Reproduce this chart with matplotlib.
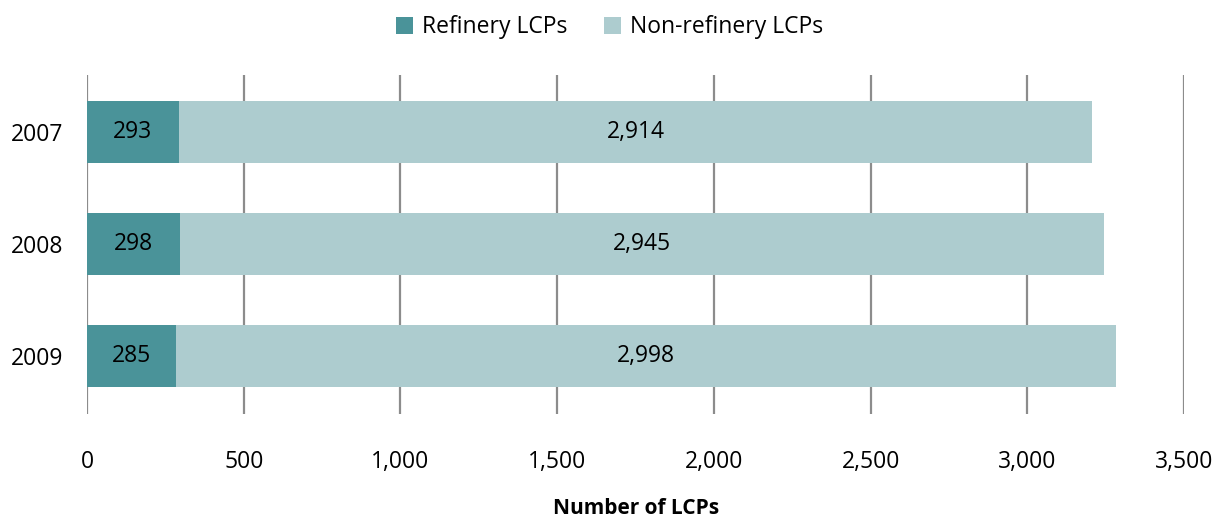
import matplotlib
matplotlib.use("Agg")
import matplotlib.pyplot as plt
import numpy as np

years = ["2007", "2008", "2009"]
refinery = [293, 298, 285]
non_refinery = [2914, 2945, 2998]
xticks = [0, 500, 1000, 1500, 2000, 2500, 3000, 3500]

dark = "#4A9399"
light = "#ADCCCF"
grid = "#8C8C8C"

plt.rcParams["font.family"] = ["Open Sans", "DejaVu Sans"]

fig = plt.figure(figsize=(12.19, 5.17), dpi=100)
ax = fig.add_axes([0.0714, 0.199, 0.9, 0.656])

y = np.arange(len(years))
h = 0.56
b1 = ax.barh(y, refinery, height=h, color=dark, label="Refinery LCPs", zorder=3)
b2 = ax.barh(y, non_refinery, left=refinery, height=h, color=light,
             label="Non-refinery LCPs", zorder=3)

for i in range(len(years)):
    ax.text(refinery[i] / 2, y[i], f"{refinery[i]:,}", ha="center", va="center",
            fontsize=16.5, zorder=4)
    ax.text(refinery[i] + non_refinery[i] / 2, y[i], f"{non_refinery[i]:,}",
            ha="center", va="center", fontsize=16.5, zorder=4)

ax.set_xlim(0, 3500)
ax.set_ylim(2.52, -0.51)
ax.set_xticks(xticks)
ax.set_xticklabels([f"{v:,}" for v in xticks])
ax.set_yticks(y)
ax.set_yticklabels(years)
ax.tick_params(axis="x", length=0, pad=26, labelsize=16.5)
ax.tick_params(axis="y", length=0, pad=17, labelsize=16.5)
ax.xaxis.grid(True, color=grid, linewidth=1.6, zorder=0)
for s in ax.spines.values():
    s.set_visible(False)

fig.text(0.5214, 1 - 508 / 517, "Number of LCPs", ha="center", va="center",
         fontsize=15, fontweight="bold")

fig.legend(handles=[b1, b2], loc="upper center", bbox_to_anchor=(0.5, 1.01),
           ncol=2, frameon=False, fontsize=16.5, handlelength=0.75, handleheight=0.75,
           handletextpad=0.4, columnspacing=1.6)

fig.savefig("out.png", dpi=100)
